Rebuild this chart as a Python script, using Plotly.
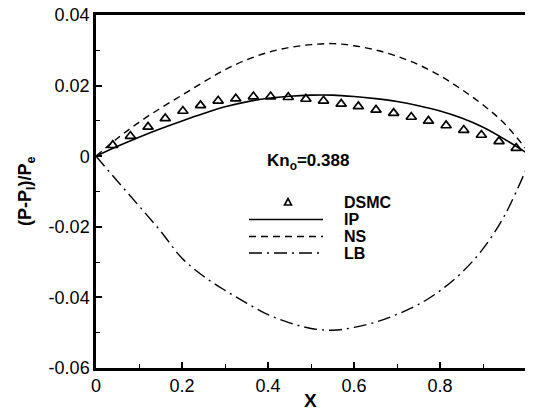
import plotly.graph_objects as go

# ---- data ----
x_curve = [0.0, 0.05, 0.1, 0.15, 0.2, 0.25, 0.3, 0.35, 0.4, 0.45, 0.5,
           0.55, 0.6, 0.65, 0.7, 0.75, 0.8, 0.85, 0.9, 0.95, 1.013]
ip_vals = [0.0, 0.0028, 0.0054, 0.0078, 0.0100, 0.0121, 0.0140, 0.0154, 0.0164, 0.0170, 0.0173,
           0.0173, 0.0169, 0.0163, 0.0155, 0.0143, 0.0128, 0.0108, 0.0082, 0.0048, 0.0]
ns_vals = [0.0, 0.0051, 0.0096, 0.0136, 0.0173, 0.0210, 0.0245, 0.0273, 0.0294, 0.0308, 0.0316,
           0.0319, 0.0313, 0.0301, 0.0283, 0.0259, 0.0228, 0.0189, 0.0145, 0.0092, 0.0]
lb_vals = [0.0, -0.0071, -0.0141, -0.0212, -0.0289, -0.0340, -0.0380, -0.0416, -0.0449, -0.0472, -0.0488,
           -0.0493, -0.0485, -0.0470, -0.0448, -0.0420, -0.0381, -0.0330, -0.0262, -0.0168, 0.0]

x_dsmc = [0.039, 0.080, 0.121, 0.161, 0.202, 0.243, 0.284, 0.325, 0.366, 0.406, 0.447, 0.488,
          0.529, 0.570, 0.610, 0.651, 0.692, 0.733, 0.773, 0.814, 0.855, 0.896, 0.937, 0.977]
dsmc_vals = [0.0031, 0.0057, 0.0083, 0.0107, 0.0128, 0.0144, 0.0157, 0.0163, 0.0169, 0.0169, 0.0167, 0.0162,
             0.0157, 0.0148, 0.0141, 0.0131, 0.0122, 0.0111, 0.0100, 0.0087, 0.0074, 0.0060, 0.0042, 0.0023]

x_tickvals = [0, 0.2, 0.4, 0.6, 0.8]
x_ticktext = ["0", "0.2", "0.4", "0.6", "0.8"]
y_tickvals = [0.04, 0.02, 0, -0.02, -0.04, -0.06]
y_ticktext = ["0.04", "0.02", "0", "-0.02", "-0.04", "-0.06"]

legend_labels = ["DSMC", "IP", "NS", "LB"]
kn_label = "Kn<sub>o</sub>=0.388"

FONT = "Liberation Sans, Arial, Helvetica, sans-serif"
NS_DASH = "7px,5px"
LB_DASH = "13px,5px,2px,5px"

fig = go.Figure()
fig.add_trace(go.Scatter(x=x_curve, y=ns_vals, mode="lines", name="NS",
                         line=dict(color="black", width=1.4, dash=NS_DASH, shape="spline")))
fig.add_trace(go.Scatter(x=x_curve, y=lb_vals, mode="lines", name="LB",
                         line=dict(color="black", width=1.4, dash=LB_DASH, shape="spline")))
fig.add_trace(go.Scatter(x=x_curve, y=ip_vals, mode="lines", name="IP",
                         line=dict(color="black", width=1.6, shape="spline")))
fig.add_trace(go.Scatter(x=x_dsmc, y=dsmc_vals, mode="markers", name="DSMC",
                         marker=dict(symbol="triangle-up-open", size=9, color="black",
                                     line=dict(color="black", width=1.7))))

# The page body has an 8px margin, so the figure starts at (8, 8) in the window.
OFF = 8
FIG_W, FIG_H = 533 - OFF, 412 - OFF
# plot area in window pixels
L, T, W, H = 96, 15, 437, 353
def px(xp):
    return (xp - L) / W
def py(yp):
    return (T + H - yp) / H

shapes = []
annotations = []
row_y = [202, 219.5, 236.5, 253]
x0, x1, xt = 249, 323, 342
shapes.append(dict(type="path", xref="paper", yref="paper", xsizemode="pixel", ysizemode="pixel",
                   xanchor=px(288), yanchor=py(row_y[0]),
                   path="M -3.5 -3 L 3.5 -3 L 0 3.5 Z", line=dict(color="black", width=1.6),
                   fillcolor="rgba(0,0,0,0)"))
for yy, dash, w in [(row_y[1], "solid", 1.6), (row_y[2], NS_DASH, 1.4), (row_y[3], LB_DASH, 1.4)]:
    shapes.append(dict(type="line", xref="paper", yref="paper", x0=px(x0), x1=px(x1),
                       y0=py(yy), y1=py(yy), line=dict(color="black", width=w, dash=dash)))
for lab, yy in zip(legend_labels, row_y):
    annotations.append(dict(text="<b>%s</b>" % lab, xref="paper", yref="paper", x=px(xt), y=py(yy),
                            xanchor="left", yanchor="middle", showarrow=False,
                            font=dict(family=FONT, size=16, color="black")))
annotations.append(dict(text="<b>%s</b>" % kn_label, xref="paper", yref="paper", x=px(265), y=py(162),
                        xanchor="left", yanchor="middle", showarrow=False,
                        font=dict(family=FONT, size=17, color="black")))
annotations.append(dict(text="<b>X</b>", xref="paper", yref="paper", x=px(310), y=py(400),
                        xanchor="center", yanchor="middle", showarrow=False,
                        font=dict(family=FONT, size=19, color="black")))
annotations.append(dict(text="<b>(P-P<sub>l</sub>)/P<sub>e</sub></b>", xref="paper", yref="paper",
                        x=px(26), y=py(191), textangle=-90, xanchor="center", yanchor="middle",
                        showarrow=False, font=dict(family=FONT, size=18, color="black")))

fig.update_layout(
    width=FIG_W, height=FIG_H,
    margin=dict(l=L - OFF, r=0, t=T - OFF, b=FIG_H - (T - OFF) - H, pad=0),
    paper_bgcolor="white", plot_bgcolor="white",
    showlegend=False,
    font=dict(family=FONT, size=18, color="black"),
    shapes=shapes, annotations=annotations,
)
fig.update_xaxes(range=[0, 1.016], showgrid=False, zeroline=False, automargin=False,
                 showline=True, linecolor="black", linewidth=2.5, mirror=True,
                 ticks="inside", ticklen=6, tickwidth=2, tickcolor="black",
                 tickvals=x_tickvals, ticktext=x_ticktext, ticklabeloverflow="allow",
                 minor=dict(ticks="inside", dtick=0.1, tick0=0, ticklen=4, tickwidth=1, tickcolor="black"),
                 tickfont=dict(family=FONT, size=18, color="black"))
fig.update_yaxes(range=[-0.06, 0.04], showgrid=False, zeroline=False, automargin=False,
                 showline=True, linecolor="black", linewidth=2.5, mirror=False,
                 ticks="inside", ticklen=6, tickwidth=2, tickcolor="black",
                 tickvals=y_tickvals, ticktext=y_ticktext, ticklabeloverflow="allow",
                 minor=dict(ticks="inside", dtick=0.01, tick0=0, ticklen=4, tickwidth=1, tickcolor="black"),
                 tickfont=dict(family=FONT, size=18, color="black"))

fig.write_html("out.html")
